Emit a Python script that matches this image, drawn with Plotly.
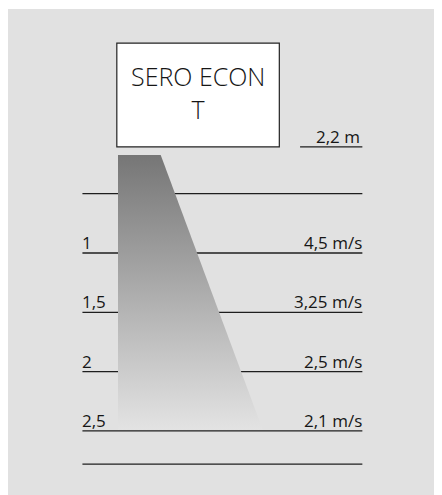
import plotly.graph_objects as go

# ---- data (metres below the unit / air speeds) ----
distances = [0.5, 1.0, 1.5, 2.0, 2.5]
distance_labels = ["", "1", "1,5", "2", "2,5"]
velocity_labels = ["", "4,5 m/s", "3,25 m/s", "2,5 m/s", "2,1 m/s"]
floor_depth = 2.78
mount_label = "2,2 m"
unit_name = "SERO ECON<br>T"

# geometry of the schematic (metres)
LINE_X0, LINE_X1 = -0.30, 2.06
BEAM_TOP, BEAM_END = 0.174, 2.49
BEAM_TOP_W, BEAM_END_W = 0.36, 1.22
BOX_X0, BOX_X1, BOX_Y0, BOX_Y1 = -0.01, 1.36, -0.77, 0.106
MOUNT_X0 = 1.535

TXT = "#161616"
LINE = "#1e1e1e"
FONT = "Open Sans"

fig = go.Figure()

# distance lines
for d in distances + [floor_depth]:
    fig.add_trace(go.Scatter(x=[LINE_X0, LINE_X1], y=[d, d], mode="lines",
                             line=dict(color=LINE, width=1.3),
                             hoverinfo="skip", showlegend=False))
# mounting height line
fig.add_trace(go.Scatter(x=[MOUNT_X0, LINE_X1], y=[BOX_Y1, BOX_Y1], mode="lines",
                         line=dict(color=LINE, width=1.3),
                         hoverinfo="skip", showlegend=False))

# air beam with vertical gradient
fig.add_trace(go.Scatter(
    x=[0, BEAM_TOP_W, BEAM_END_W, 0, 0],
    y=[BEAM_TOP, BEAM_TOP, BEAM_END, BEAM_END, BEAM_TOP],
    mode="lines", line=dict(width=0), fill="toself",
    fillgradient=dict(type="vertical",
                      colorscale=[[0, "#e3e3e3"], [1, "#767676"]]),
    hoverinfo="skip", showlegend=False))

# unit box
fig.add_shape(type="rect", x0=BOX_X0, x1=BOX_X1, y0=BOX_Y0, y1=BOX_Y1,
              fillcolor="white", line=dict(color="#222222", width=1.2))

fig.add_annotation(x=(BOX_X0 + BOX_X1) / 2, y=(BOX_Y0 + BOX_Y1) / 2 - 0.022,
                   text=unit_name, showarrow=False, xanchor="center",
                   yanchor="middle",
                   font=dict(family=FONT, size=25, color=TXT, weight=300))

fig.add_annotation(x=LINE_X1, y=BOX_Y1, text=mount_label, showarrow=False,
                   xanchor="right", yanchor="bottom", yshift=-3,
                   font=dict(family=FONT, size=17, color=TXT))

for d, lab, vel in zip(distances, distance_labels, velocity_labels):
    if lab:
        fig.add_annotation(x=LINE_X0, y=d, text=lab, showarrow=False,
                           xanchor="left", yanchor="bottom", yshift=-3,
                           xshift=-2,
                           font=dict(family=FONT, size=17, color=TXT))
    if vel:
        fig.add_annotation(x=LINE_X1, y=d, text=vel, showarrow=False,
                           xanchor="right", yanchor="bottom", yshift=-3,
                           xshift=2,
                           font=dict(family=FONT, size=17, color=TXT))

fig.update_xaxes(range=[-0.9275, 2.799], visible=False, fixedrange=True)
fig.update_yaxes(range=[3.108, -1.0573], visible=False, fixedrange=True)
fig.update_layout(width=442, height=495,
                  margin=dict(l=0, r=0, t=1, b=0),
                  paper_bgcolor="white", plot_bgcolor="#e1e1e1",
                  showlegend=False)

fig.write_html("out.html")
